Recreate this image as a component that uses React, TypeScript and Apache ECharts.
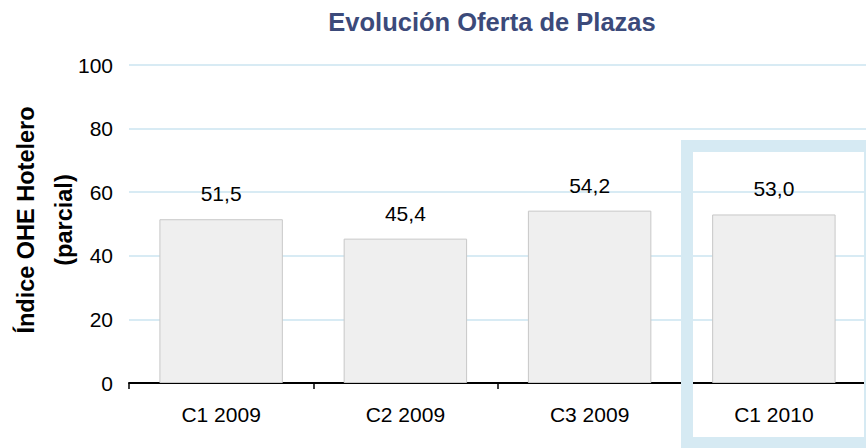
import React, { useEffect, useRef } from "react";
import * as echarts from "echarts";

const categories = ["C1 2009", "C2 2009", "C3 2009", "C1 2010"];
const values = [51.5, 45.4, 54.2, 53.0];
const yTicks = { min: 0, max: 100, interval: 20 };
const titleText = "Evolución Oferta de Plazas";
const yAxisTitle = "Índice OHE Hotelero\n(parcial)";

const FONT = "'Liberation Sans', Arial, sans-serif";

export default function App() {
  const ref = useRef<HTMLDivElement>(null);
  useEffect(() => {
    if (!ref.current) return;
    const chart = echarts.init(ref.current, null, { renderer: "svg" });
    chart.setOption({
      animation: false,
      backgroundColor: "#ffffff",
      textStyle: { fontFamily: FONT },
      title: {
        text: titleText,
        left: 487,
        top: 4,
        textAlign: "center",
        textStyle: { fontFamily: FONT, fontSize: 25.5, fontWeight: "bold", color: "#3b4a7a" },
      },
      grid: { left: 129, top: 65, height: 318, width: 744 },
      xAxis: {
        type: "category",
        data: categories,
        axisLine: { show: true, lineStyle: { color: "#000", width: 2 } },
        axisTick: { show: true, length: 6, lineStyle: { color: "#000", width: 1.5 } },
        axisLabel: { fontFamily: FONT, fontSize: 21, color: "#000", margin: 21 },
        splitLine: { show: false },
      },
      yAxis: {
        type: "value",
        min: yTicks.min,
        max: yTicks.max,
        interval: yTicks.interval,
        axisLine: { show: false },
        axisTick: { show: false },
        axisLabel: { fontFamily: FONT, fontSize: 21, color: "#000", margin: 16 },
        splitLine: { show: true, lineStyle: { color: "#d8ebf4", width: 2 } },
      },
      series: [
        {
          type: "bar",
          data: values,
          barWidth: "67%",
          itemStyle: { color: "#efefef", borderColor: "#c8c8c8", borderWidth: 1 },
          label: {
            show: true,
            position: "top",
            distance: 15,
            fontFamily: FONT,
            fontSize: 21,
            color: "#000",
            formatter: (p: any) => Number(p.value).toFixed(1).replace(".", ","),
          },
        },
      ],
      graphic: [
        {
          type: "text",
          x: 45,
          y: 220,
          rotation: Math.PI / 2,
          style: {
            text: yAxisTitle,
            fontFamily: FONT,
            fontSize: 23.5,
            fontWeight: "bold",
            fill: "#000",
            align: "center",
            verticalAlign: "middle",
            lineHeight: 38,
          },
        },
        {
          type: "rect",
          z: 100,
          shape: { x: 687, y: 146, width: 183, height: 297 },
          style: { fill: "none", stroke: "#d6eaf3", lineWidth: 12 },
        },
      ],
    });
    return () => chart.dispose();
  }, []);
  return (
    <div
      ref={ref}
      style={{ position: "fixed", left: 0, top: 0, width: 866, height: 448 }}
    />
  );
}
